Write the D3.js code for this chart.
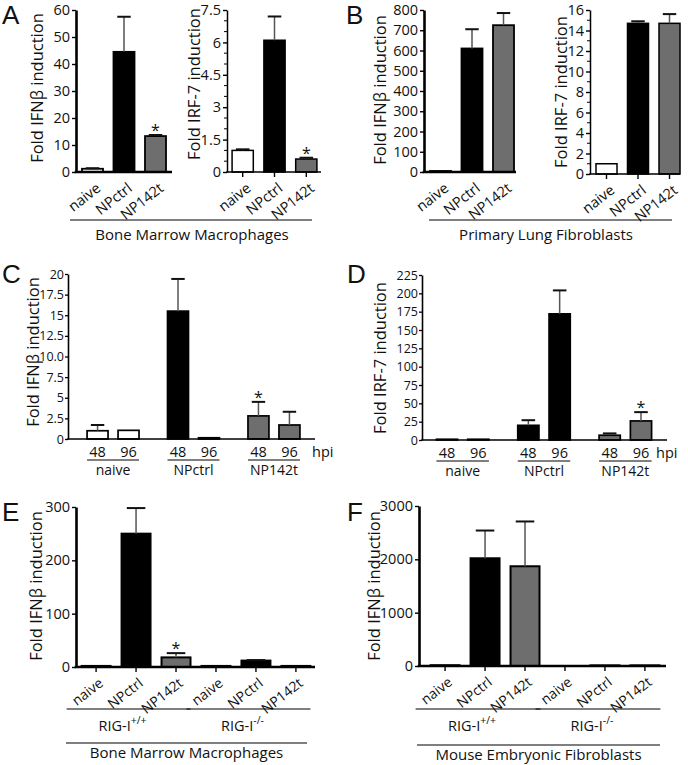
<!DOCTYPE html>
<html><head><meta charset="utf-8">
<script src="https://cdn.jsdelivr.net/npm/d3@7"></script>
<style>body{margin:0;background:#fff} text{font-family:"Open Sans",sans-serif;fill:#111}</style>
</head><body><svg id="c" width="688" height="765"></svg>
<script>
// ---------------- DATA ----------------
const cats3 = ["naive", "NPctrl", "NP142t"];
const catFill = {naive: "#ffffff", NPctrl: "#000000", NP142t: "#6e6e6e"};
// Panel A (Bone Marrow Macrophages)
const aIfnVals = [1.2, 44.5, 13.3];
const aIfnSem  = [0.2, 13.0, 0.4];
const aIfnStar = [false, false, true];
const aIrfVals = [1.0, 6.1, 0.6];
const aIrfSem  = [0.05, 1.1, 0.06];
const aIrfStar = [false, false, true];
const aIfnTicks = [0, 10, 20, 30, 40, 50, 60];
const aIrfTicks = [0, 1.5, 3, 4.5, 6, 7.5];
// Panel B (Primary Lung Fibroblasts)
const bIfnVals = [5, 610, 725];
const bIfnSem  = [0, 95, 60];
const bIrfVals = [1.0, 14.7, 14.7];
const bIrfSem  = [0, 0.2, 0.9];
const bIfnTicks = [0, 100, 200, 300, 400, 500, 600, 700, 800];
const bIrfTicks = [0, 2, 4, 6, 8, 10, 12, 14, 16];
// Panels C, D (time course)
const hpi = ["48", "96"];
const cVals = [1.0, 1.05, 15.5, 0.15, 2.8, 1.7];
const cSem  = [0.7, 0, 3.9, 0, 1.7, 1.6];
const cStar = [false, false, false, false, true, false];
const cTicks = [0, 2.5, 5, 7.5, 10, 12.5, 15, 17.5, 20];
const cTickLabels = ["0", "2.5", "5", "7.5", "10.0", "12.5", "15", "17.5", "20"];
const dVals = [1, 1, 20, 172, 6.5, 26];
const dSem  = [0, 0, 7, 32, 2.5, 12];
const dStar = [false, false, false, false, false, true];
const dTicks = [0, 25, 50, 75, 100, 125, 150, 175, 200, 225];
// Panels E, F (RIG-I)
const genotypes = ["RIG-I+/+", "RIG-I-/-"];
const eVals = [2, 250, 18, 2, 12, 2];
const eSem  = [0, 48, 8, 0, 1, 0];
const eStar = [false, false, true, false, false, false];
const eTicks = [0, 100, 200, 300];
const fVals = [15, 2020, 1870, 0, 12, 12];
const fSem  = [0, 520, 840, 0, 0, 0];
const fTicks = [0, 1000, 2000, 3000];

// ---------------- DRAWING ----------------
const svg = d3.select("#c");

function letter(t, x, y) {
  svg.append("text").attr("x", x).attr("y", y).text(t)
    .style("font-family", "'Liberation Sans', Arial, sans-serif").style("font-size", "26px");
}
function ylabel(txt, cx, cy, fs) {
  svg.append("text").attr("transform", `translate(${cx},${cy}) rotate(-90)`)
    .attr("text-anchor", "middle").attr("dy", "0.35em").style("font-size", fs + "px").text(txt);
}

function panel(o) {
  const g = svg.append("g");
  const y = d3.scaleLinear().domain([0, o.max]).range([o.y0, o.yTop]);
  const data = o.keys.map((k, i) => ({key: k, cat: o.cats[i], v: o.vals[i], sem: o.sem[i], star: o.star ? o.star[i] : false}));
  const bw = o.bw, xl = o.xl;
  g.selectAll("rect.bar").data(data).join("rect").attr("class", "bar")
    .attr("x", d => xl(d.key)).attr("y", d => y(d.v))
    .attr("width", bw).attr("height", d => Math.max(0, o.y0 - y(d.v)))
    .attr("fill", d => catFill[d.cat]).attr("stroke", "#000").attr("stroke-width", o.bs || 1.5);
  const eb = data.filter(d => d.sem > 0);
  g.selectAll("line.err").data(eb).join("line")
    .attr("x1", d => xl(d.key) + bw / 2).attr("x2", d => xl(d.key) + bw / 2)
    .attr("y1", d => y(d.v)).attr("y2", d => y(d.v + d.sem))
    .attr("stroke", "#555").attr("stroke-width", 1.5);
  g.selectAll("line.cap").data(eb).join("line")
    .attr("x1", d => xl(d.key) + bw * 0.18).attr("x2", d => xl(d.key) + bw * 0.82)
    .attr("y1", d => y(d.v + d.sem)).attr("y2", d => y(d.v + d.sem))
    .attr("stroke", "#111").attr("stroke-width", 2);
  g.selectAll("text.star").data(data.filter(d => d.star)).join("text")
    .attr("x", d => xl(d.key) + bw / 2).attr("y", d => y(d.v + d.sem) + 1)
    .attr("text-anchor", "middle").style("font-size", "16px").text("*");
  const ax = d3.axisLeft(y).tickValues(o.ticks).tickSize(o.ts || 4).tickSizeOuter(0).tickPadding(o.tp == null ? 2 : o.tp)
    .tickFormat(o.fmt || (d => String(d)));
  const ag = g.append("g").attr("transform", `translate(${o.x0},0)`).call(ax);
  ag.select(".domain").attr("stroke", "#000").attr("stroke-width", o.aw);
  ag.selectAll(".tick line").attr("stroke", "#000").attr("stroke-width", o.tw || 1.4);
  ag.selectAll(".tick text").style("font-family", "'Open Sans',sans-serif").style("font-size", o.tfs + "px").attr("fill", "#111");
  if (o.minor) {
    const mv = d3.range(0, o.max + 1e-9, o.minor).filter(v => !o.ticks.some(t => Math.abs(t - v) < 1e-9));
    g.selectAll("line.minor").data(mv).join("line")
      .attr("x1", o.x0 - 3).attr("x2", o.x0).attr("y1", d => y(d)).attr("y2", d => y(d))
      .attr("stroke", "#000").attr("stroke-width", 1);
  }
  g.append("line").attr("x1", o.x0 - o.aw / 2).attr("x2", o.xEnd).attr("y1", o.y0).attr("y2", o.y0)
    .attr("stroke", "#000").attr("stroke-width", o.aw);
  if (o.rot) {
    if (o.xticks) {
      g.selectAll("line.xt").data(data).join("line")
        .attr("x1", d => xl(d.key) + bw / 2).attr("x2", d => xl(d.key) + bw / 2)
        .attr("y1", o.y0).attr("y2", o.y0 + 5).attr("stroke", "#000").attr("stroke-width", 1.4);
    }
    g.selectAll("text.xl").data(data).join("text")
      .attr("transform", d => `translate(${xl(d.key) + bw / 2 + o.rdx},${o.y0 + o.rdy}) rotate(-38)`)
      .attr("text-anchor", "end").attr("dy", "0.35em").style("font-size", o.xfs + "px").text(d => d.cat);
  }
  return {y, data};
}

// ---- Panel A ----
letter("A", 2, 24);
const xA1 = d3.scaleBand().domain(cats3).range([76, 172]).paddingInner(0.333).paddingOuter(0.19);
panel({keys: cats3, cats: cats3, vals: aIfnVals, sem: aIfnSem, star: aIfnStar, max: 60, y0: 172, yTop: 10,
  xl: xA1, bw: xA1.bandwidth(), x0: 76, xEnd: 172, aw: 2.6, ticks: aIfnTicks, tfs: 14.5, bs: 1.8,
  rot: true, rdx: 6, rdy: 14, xfs: 14.5, xticks: false});
ylabel("Fold IFNβ induction", 37, 88, 16.5);
const xA2 = d3.scaleBand().domain(cats3).range([227, 322]).paddingInner(0.333).paddingOuter(0.16);
panel({keys: cats3, cats: cats3, vals: aIrfVals, sem: aIrfSem, star: aIrfStar, max: 7.5, y0: 172, yTop: 10,
  xl: xA2, bw: xA2.bandwidth(), x0: 227, xEnd: 321, aw: 1.5, ticks: aIrfTicks, tfs: 14.5, minor: 0.5, bs: 1.5,
  rot: true, rdx: 6, rdy: 14, xfs: 14.5, xticks: true});
ylabel("Fold IRF-7 induction", 194, 84, 16.5);
svg.append("line").attr("x1", 70).attr("x2", 312).attr("y1", 220).attr("y2", 220).attr("stroke", "#000").attr("stroke-width", 1.2);
svg.append("text").attr("x", 192).attr("y", 240).attr("text-anchor", "middle").style("font-size", "15px").text("Bone Marrow Macrophages");

// ---- Panel B ----
letter("B", 346, 24);
const xB1 = d3.scaleBand().domain(cats3).range([424, 520]).paddingInner(0.333).paddingOuter(0.19);
panel({keys: cats3, cats: cats3, vals: bIfnVals, sem: bIfnSem, max: 800, y0: 172, yTop: 10,
  xl: xB1, bw: xB1.bandwidth(), x0: 424, xEnd: 516, aw: 2.6, ticks: bIfnTicks, tfs: 14.5, bs: 1.8,
  rot: true, rdx: 6, rdy: 14, xfs: 14.5, xticks: false});
ylabel("Fold IFNβ induction", 380, 90, 16.5);
const xB2 = d3.scaleBand().domain(cats3).range([590, 686]).paddingInner(0.333).paddingOuter(0.19);
panel({keys: cats3, cats: cats3, vals: bIrfVals, sem: bIrfSem, max: 16, y0: 174, yTop: 10,
  xl: xB2, bw: xB2.bandwidth(), x0: 590, xEnd: 680, aw: 1.5, ticks: bIrfTicks, tfs: 14.5, minor: 1, bs: 1.5,
  rot: true, rdx: 6, rdy: 14, xfs: 14.5, xticks: true});
ylabel("Fold IRF-7 induction", 561, 92, 16.5);
svg.append("line").attr("x1", 429).attr("x2", 672).attr("y1", 220).attr("y2", 220).attr("stroke", "#000").attr("stroke-width", 1.2);
svg.append("text").attr("x", 546).attr("y", 240).attr("text-anchor", "middle").style("font-size", "15px").text("Primary Lung Fibroblasts");

// ---- Panels C and D (grouped by hpi) ----
function timePanel(o) {
  const keys = [], cats = [];
  cats3.forEach(c => hpi.forEach(h => { keys.push(c + "|" + h); cats.push(c); }));
  const gx = d3.scaleBand().domain(cats3).range([o.x0, o.x1]).paddingOuter(o.gpo);
  const ix = d3.scaleBand().domain(hpi).range([0, gx.bandwidth()]).paddingInner(0.323).paddingOuter(0.46);
  const xl = k => { const [c, h] = k.split("|"); return gx(c) + ix(h); };
  panel({keys, cats, vals: o.vals, sem: o.sem, star: o.star, max: o.max, y0: o.y0, yTop: o.yTop,
    xl, bw: ix.bandwidth(), x0: o.x0, xEnd: o.xEnd, aw: 1.6, ticks: o.ticks, fmt: o.fmt, tfs: 12.5, tw: 1.3,
    ts: 3, tp: 1, bs: 1.7, rot: false});
  const g = svg.append("g");
  keys.forEach(k => {
    g.append("text").attr("x", xl(k) + ix.bandwidth() / 2).attr("y", o.y0 + 18).attr("text-anchor", "middle")
      .style("font-size", "14.5px").text(k.split("|")[1]);
  });
  cats3.forEach(c => {
    g.append("line").attr("x1", gx(c) + ix(hpi[0])).attr("x2", gx(c) + ix(hpi[1]) + ix.bandwidth())
      .attr("y1", o.y0 + 21).attr("y2", o.y0 + 21).attr("stroke", "#000").attr("stroke-width", 1);
    g.append("text").attr("x", gx(c) + gx.bandwidth() / 2).attr("y", o.y0 + 36).attr("text-anchor", "middle")
      .style("font-size", "14px").text(c);
  });
  g.append("text").attr("x", o.hpiX).attr("y", o.y0 + 18).style("font-size", "14.5px").text("hpi");
}
letter("C", 2, 283);
timePanel({x0: 68, x1: 319, gpo: 0.06, xEnd: 315, y0: 439, yTop: 274, max: 20, vals: cVals, sem: cSem, star: cStar,
  ticks: cTicks, fmt: (d, i) => cTickLabels[i], hpiX: 312});
ylabel("Fold IFNβ induction", 33, 352, 16.5);
letter("D", 347, 283);
timePanel({x0: 422, x1: 666, gpo: 0, xEnd: 667, y0: 440, yTop: 275, max: 225, vals: dVals, sem: dSem, star: dStar,
  ticks: dTicks, hpiX: 656});
ylabel("Fold IRF-7 induction", 380, 358, 16.5);

// ---- Panels E and F ----
function rigPanel(o) {
  const keys = [], cats = [];
  genotypes.forEach(gt => cats3.forEach(c => { keys.push(gt + "|" + c); cats.push(c); }));
  const x = d3.scaleBand().domain(keys).range([o.x0, o.x1]).paddingInner(0.275).paddingOuter(o.po);
  panel({keys, cats, vals: o.vals, sem: o.sem, star: o.star, max: o.max, y0: o.y0, yTop: o.yTop,
    xl: x, bw: x.bandwidth(), x0: o.x0, xEnd: o.xEnd, aw: 2.6, ticks: o.ticks, tfs: 14.5, bs: 2,
    rot: true, rdx: 5, rdy: 14, xfs: 14, xticks: true});
  const g = svg.append("g");
  genotypes.forEach((gt, i) => {
    const k0 = gt + "|" + cats3[0], k2 = gt + "|" + cats3[2];
    const a = x(k0) - o.bl, b = x(k2) + x.bandwidth() + o.br;
    g.append("line").attr("x1", a).attr("x2", b).attr("y1", 709).attr("y2", 709).attr("stroke", "#000").attr("stroke-width", 1.2);
    const t = g.append("text").attr("x", (a + b) / 2 - 6).attr("y", 731).attr("text-anchor", "middle").style("font-size", "14.5px");
    t.append("tspan").text("RIG-I");
    t.append("tspan").attr("dy", "-7").style("font-size", "10.5px").text(gt.slice(5));
  });
  g.append("line").attr("x1", o.bx1).attr("x2", o.bx2).attr("y1", o.by).attr("y2", o.by).attr("stroke", "#000").attr("stroke-width", 1.2);
  g.append("text").attr("x", (o.bx1 + o.bx2) / 2).attr("y", o.by + 15).attr("text-anchor", "middle").style("font-size", "15px").text(o.title);
}
letter("E", 2, 521);
rigPanel({x0: 76, x1: 316, po: 0.14, xEnd: 315, y0: 667, yTop: 507, max: 300, vals: eVals, sem: eSem, star: eStar,
  ticks: eTicks, bl: 15, br: 0, bx1: 66, bx2: 307, by: 743, title: "Bone Marrow Macrophages"});
ylabel("Fold IFNβ induction", 36, 586, 16.5);
letter("F", 347, 521);
rigPanel({x0: 419, x1: 671, po: 0.29, xEnd: 666, y0: 666, yTop: 506, max: 3000, vals: fVals, sem: fSem, star: null,
  ticks: fTicks, bl: 15, br: 1, bx1: 417, bx2: 660, by: 745, title: "Mouse Embryonic Fibroblasts"});
ylabel("Fold IFNβ induction", 374, 586, 16.5);
</script></body></html>
